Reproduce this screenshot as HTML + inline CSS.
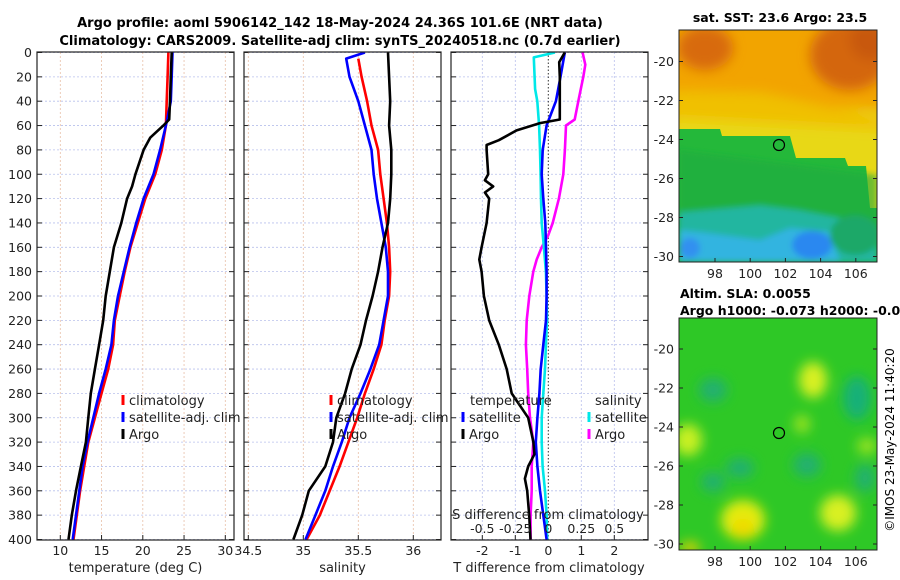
<!DOCTYPE html>
<html><head><meta charset="utf-8">
<style>
html,body{margin:0;padding:0;background:#fff;}
svg{display:block;font-family:"DejaVu Sans","Liberation Sans",sans-serif;}
</style></head>
<body>
<svg id="chart" width="900" height="580" viewBox="0 0 900 580" xmlns="http://www.w3.org/2000/svg">
<defs>
<filter id="blur6" x="-50%" y="-50%" width="200%" height="200%"><feGaussianBlur stdDeviation="6"/></filter>
<filter id="blur3" x="-50%" y="-50%" width="200%" height="200%"><feGaussianBlur stdDeviation="3"/></filter>
<clipPath id="clipSST"><rect x="679" y="30" width="198" height="232"/></clipPath>
<clipPath id="clipSLA"><rect x="679" y="318" width="198" height="232"/></clipPath>
<clipPath id="clipP1"><rect x="37" y="52" width="197" height="488"/></clipPath>
<clipPath id="clipP2"><rect x="244" y="52" width="197" height="488"/></clipPath>
<clipPath id="clipP3"><rect x="451" y="52" width="197" height="488"/></clipPath>
</defs>

<text x="340" y="27" font-size="13" font-weight="bold" text-anchor="middle">Argo profile: aoml 5906142_142 18-May-2024 24.36S 101.6E (NRT data)</text>
<text x="340" y="45" font-size="13" font-weight="bold" text-anchor="middle">Climatology: CARS2009. Satellite-adj clim: synTS_20240518.nc (0.7d earlier)</text>

<!-- SST map -->
<g>
<g clip-path="url(#clipSST)">
<rect x="679" y="30" width="198" height="232" fill="#f2a400"/>
<g filter="url(#blur6)">
<ellipse cx="705" cy="48" rx="28" ry="22" fill="#d86a0c"/>
<ellipse cx="850" cy="55" rx="40" ry="35" fill="#d4660c"/>
<ellipse cx="870" cy="40" rx="20" ry="20" fill="#c85808"/>
<polygon points="670,100 890,110 890,240 670,240" fill="#e8d814"/>
<polygon points="670,90 760,92 800,100 890,120 890,130 670,118" fill="#f0c000"/>
</g>
<polygon points="679,129 720,129 722,136 790,136 796,158 845,158 848,166 866,166 870,208 877,208 877,262 679,262" fill="#24b83a"/>
<g filter="url(#blur3)">
<polygon points="679,150 877,175 877,262 679,262" fill="#1caa40" opacity="0.6"/>
<polygon points="679,212 760,205 800,210 877,225 877,262 679,262" fill="#20b6a0"/>
<polygon points="679,230 700,232 760,240 790,228 830,232 840,262 679,262" fill="#30b4e0"/>
<ellipse cx="812" cy="245" rx="20" ry="14" fill="#2a88f0"/>
<ellipse cx="690" cy="248" rx="10" ry="10" fill="#3090f0"/>
<ellipse cx="855" cy="235" rx="25" ry="20" fill="#1aa868"/>
</g>
</g>
<rect x="679" y="30" width="198" height="232" fill="none" stroke="#222" stroke-width="1"/>
<circle cx="779" cy="145" r="5.5" fill="none" stroke="#000" stroke-width="1.2"/>
</g>
<text x="780" y="22" font-size="12.5" font-weight="bold" text-anchor="middle">sat. SST: 23.6 Argo: 23.5</text>

<!-- SLA map -->
<g>
<g clip-path="url(#clipSLA)">
<rect x="679" y="318" width="198" height="232" fill="#2ec826"/>
<g filter="url(#blur6)">
<ellipse cx="713" cy="390" rx="14" ry="12" fill="#20b070"/>
<ellipse cx="857" cy="398" rx="14" ry="22" fill="#18b078"/>
<ellipse cx="807" cy="465" rx="14" ry="12" fill="#20b070"/>
<ellipse cx="740" cy="468" rx="14" ry="10" fill="#20b070"/>
<ellipse cx="713" cy="482" rx="12" ry="10" fill="#22b070"/>
<ellipse cx="865" cy="478" rx="10" ry="14" fill="#22b070"/>
<ellipse cx="813" cy="380" rx="14" ry="18" fill="#d8f020"/>
<ellipse cx="743" cy="520" rx="22" ry="20" fill="#e4ec10"/>
<ellipse cx="743" cy="528" rx="10" ry="10" fill="#f0d800"/>
<ellipse cx="838" cy="513" rx="18" ry="18" fill="#d8f020"/>
<ellipse cx="688" cy="440" rx="14" ry="16" fill="#c8f020"/>
<ellipse cx="802" cy="424" rx="8" ry="9" fill="#9ce420"/>
<ellipse cx="867" cy="446" rx="10" ry="8" fill="#9ce420"/>
<ellipse cx="690" cy="548" rx="10" ry="6" fill="#e8d000"/>
</g>
</g>
<rect x="679" y="318" width="198" height="232" fill="none" stroke="#222" stroke-width="1"/>
<circle cx="779" cy="433" r="5.5" fill="none" stroke="#000" stroke-width="1.2"/>
</g>
<text x="680" y="298" font-size="12.5" font-weight="bold">Altim. SLA: 0.0055</text>
<text x="680" y="315" font-size="12.5" font-weight="bold">Argo h1000: -0.073 h2000: -0.082</text>
<text transform="translate(894,440) rotate(-90)" font-size="12" text-anchor="middle">©IMOS 23-May-2024 11:40:20</text>

<g id="dyn"></g>
</svg>
<script>
// ---- data ----
const depths = [0,20,40,60,80,100,120,140,160,180,200,220,240,260,280,300,320,340,360,380,400];
const tempClim = [23.1,23.0,22.9,22.8,22.3,21.5,20.3,19.4,18.5,17.8,17.2,16.6,16.4,15.8,15.0,14.2,13.4,12.9,12.4,12.0,11.6];
const tempSat = [23.6,23.5,23.4,22.8,22.1,21.3,20.1,19.2,18.4,17.7,17.0,16.5,16.2,15.5,14.7,14.0,13.3,12.7,12.3,11.9,11.5];
const argoDepths = [0,20,40,55,60,65,70,80,100,110,120,140,160,180,200,220,240,260,280,300,320,340,360,380,400];
const tempArgo = [23.5,23.4,23.3,23.2,22.5,21.7,20.9,20.1,19.1,18.7,18.1,17.4,16.5,16.0,15.5,15.2,14.7,14.2,13.7,13.4,13.1,12.5,11.9,11.4,11.0];
const salClimDepths = [5,20,40,60,80,100,120,140,160,180,200,220,240,260,280,300,320,340,360,380,400];
const salClim = [35.50,35.53,35.58,35.62,35.68,35.70,35.73,35.76,35.78,35.79,35.78,35.74,35.71,35.64,35.56,35.49,35.41,35.33,35.24,35.15,35.03];
const salSatDepths = [0,5,20,40,60,80,100,120,140,160,180,200,220,240,260,280,300,320,340,360,380,400];
const salSat = [35.56,35.39,35.42,35.50,35.56,35.62,35.64,35.67,35.71,35.75,35.77,35.77,35.73,35.69,35.61,35.52,35.42,35.35,35.27,35.20,35.11,35.02];
const salArgo = [35.77,35.78,35.79,35.78,35.80,35.80,35.79,35.77,35.72,35.68,35.63,35.57,35.52,35.44,35.38,35.30,35.27,35.20,35.05,34.99,34.91];
const dtArgoDepths = [0,8,20,40,55,58,64,72,76,80,100,105,110,115,120,140,160,170,180,200,220,240,260,280,300,320,330,340,350,360,380,400];
const dtArgo = [0.5,0.33,0.35,0.35,0.35,-0.25,-0.96,-1.5,-1.87,-1.87,-1.82,-1.92,-1.67,-1.92,-1.79,-1.87,-2.02,-2.09,-2.02,-1.95,-1.79,-1.5,-1.26,-1.11,-0.61,-0.45,-0.42,-0.61,-0.71,-0.64,-0.58,-0.54];
const dtSat = [0.5,0.37,0.23,-0.05,-0.17,-0.2,-0.15,-0.09,-0.07,-0.05,-0.05,-0.07,-0.15,-0.23,-0.27,-0.33,-0.38,-0.33,-0.25,-0.15,-0.05];
const dsSatDepths = [0,4,30,40,60,80,100,120,140,160,180,200,220,240,260,280,300,320,340,360,380,400];
const dsSat = [0.05,-0.11,-0.10,-0.083,-0.07,-0.063,-0.058,-0.055,-0.05,-0.033,-0.018,-0.013,-0.01,-0.018,-0.025,-0.038,-0.05,-0.05,-0.043,-0.025,-0.013,-0.008];
const dsArgoDepths = [0,10,20,40,55,60,80,100,120,140,150,160,170,180,200,220,240,260,280,300,320,340,360,380,400];
const dsArgo = [0.26,0.28,0.265,0.227,0.2,0.134,0.126,0.114,0.08,0.033,0.0,-0.05,-0.088,-0.114,-0.144,-0.164,-0.17,-0.16,-0.152,-0.139,-0.114,-0.126,-0.126,-0.134,-0.134];
const depthTicks = [0,20,40,60,80,100,120,140,160,180,200,220,240,260,280,300,320,340,360,380,400];
const tempTicks = [10,15,20,25,30];
const salTicks = [34.5,35,35.5,36];
const salTickLabels = ["34.5","35","35.5","36"];
const dtTicks = [-2,-1,0,1,2];
const dsTicks = [-0.5,-0.25,0,0.25,0.5];
const dsTickLabels = ["-0.5","-0.25","0","0.25","0.5"];
const lonTicks = [98,100,102,104,106];
const latTicks = [-20,-22,-24,-26,-28,-30];

// ---- scales ----
const yD = d => 52.5 + d*1.2175;
const xT = t => 60.3 + (t-10)*8.25;
const xS = s => 248.3 + (s-34.5)*110;
const xDT = v => 548.3 + v*33;
const xDS = v => 548.3 + v*132;
const xLon = l => 715 + (l-98)*17.6;
const yLatTop = l => 61.5 + (-20-l)*19.5;
const yLatBot = l => 349 + (-20-l)*19.5;

const NS = "http://www.w3.org/2000/svg";
const root = document.getElementById('dyn');
function el(tag, attrs, parent){
  const e = document.createElementNS(NS, tag);
  for (const k in attrs) e.setAttribute(k, attrs[k]);
  (parent||root).appendChild(e);
  return e;
}
function txt(x,y,s,size,anchor,parent){
  const t = el('text',{x:x,y:y,'font-size':size,'text-anchor':anchor||'middle','fill':'#222'},parent);
  t.textContent = s;
  return t;
}

const panels = [
  {L:37, name:'temperature-panel', clip:'clipP1'},
  {L:244, name:'salinity-panel', clip:'clipP2'},
  {L:451, name:'difference-panel', clip:'clipP3'}
];
const W = 197, T0 = 52, B0 = 540;
panels.forEach((p, i) => {
  const g = el('g',{});
  
  
  p.g = g;
  // horizontal grid
  depthTicks.forEach(d => {
    const y = yD(d);
    const ln = el('line',{x1:p.L,x2:p.L+W,y1:y,y2:y,stroke:'#b8c0ec','stroke-width':0.8,'stroke-dasharray':'2,2'},g);
    
    
    el('line',{x1:p.L,x2:p.L+5,y1:y,y2:y,stroke:'#222','stroke-width':1},g);
    el('line',{x1:p.L+W-5,x2:p.L+W,y1:y,y2:y,stroke:'#222','stroke-width':1},g);
  });
});
// vertical grid + x ticks
function vgrid(p, vals, fx, color){
  vals.forEach(v => {
    const x = fx(v);
    el('line',{x1:x,x2:x,y1:T0,y2:B0,stroke:color,'stroke-width':0.8,'stroke-dasharray':'2,2'},p.g);
    el('line',{x1:x,x2:x,y1:B0-5,y2:B0,stroke:'#222','stroke-width':1},p.g);
  });
}
vgrid(panels[0], tempTicks, xT, '#e8c0a8');
vgrid(panels[1], salTicks, xS, '#e8c0a8');
vgrid(panels[2], dtTicks.filter(v=>v!==0), xDT, '#b8c0ec');
el('line',{x1:xDT(0),x2:xDT(0),y1:T0,y2:B0,stroke:'#333','stroke-width':1,'stroke-dasharray':'1.5,2'},panels[2].g);

// y tick labels
depthTicks.forEach(d => {
  const t = txt(32, yD(d)+4.5, String(d), 12.5, 'end');
  
  
});
tempTicks.forEach((v,i) => {
  const t = txt(xT(v), 555, String(v), 12.5, 'middle');
  
  
});
salTicks.forEach((v,i) => {
  const t = txt(xS(v), 555, salTickLabels[i], 12.5, 'middle');
  
  
});
dtTicks.forEach(v => {
  const t = txt(xDT(v), 555, String(v), 12.5, 'middle');
  
  
});
dsTicks.forEach((v,i) => {
  const t = txt(xDS(v), 533, dsTickLabels[i], 12.5, 'middle');
  
  
});
let a;
a = txt(135.5, 572, 'temperature (deg C)', 13, 'middle');


a = txt(342.5, 572, 'salinity', 13, 'middle');


a = txt(549, 572, 'T difference from climatology', 13, 'middle');


a = txt(548, 519, 'S difference from climatology', 13, 'middle');



// series
function series(p, xs, ds, fx, color, name){
  let d = '';
  xs.forEach((v,i) => { d += (i?'L':'M') + fx(v).toFixed(1) + ',' + yD(ds[i]).toFixed(1); });
  const path = el('path',{d:d,fill:'none',stroke:color,'stroke-width':2.6,'stroke-linejoin':'round','clip-path':'url(#'+p.clip+')'},p.g);
  
  
}
series(panels[0], tempClim, depths, xT, '#ff0000', 'temperature-climatology-line');
series(panels[0], tempSat, depths, xT, '#0000ff', 'temperature-satellite-line');
series(panels[0], tempArgo, argoDepths, xT, '#000000', 'temperature-argo-line');
series(panels[1], salClim, salClimDepths, xS, '#ff0000', 'salinity-climatology-line');
series(panels[1], salSat, salSatDepths, xS, '#0000ff', 'salinity-satellite-line');
series(panels[1], salArgo, depths, xS, '#000000', 'salinity-argo-line');
series(panels[2], dsArgo, dsArgoDepths, xDS, '#ff00ff', 'sdiff-argo-line');
series(panels[2], dsSat, dsSatDepths, xDS, '#00e8e8', 'sdiff-satellite-line');
series(panels[2], dtSat, depths, xDT, '#0000ff', 'tdiff-satellite-line');
series(panels[2], dtArgo, dtArgoDepths, xDT, '#000000', 'tdiff-argo-line');

// axes frames
panels.forEach(p => {
  el('rect',{x:p.L,y:T0,width:W,height:B0-T0,fill:'none',stroke:'#222','stroke-width':1.2},p.g);
});

// legends
function legend(x, y, color, label, name){
  const g = el('g',{});
  
  
  el('line',{x1:x,x2:x,y1:y-10,y2:y,stroke:color,'stroke-width':3},g);
  txt(x+6, y, label, 13, 'start', g);
}
legend(123, 405, '#ff0000', 'climatology', 'legend-temp-climatology');
legend(123, 422, '#0000ff', 'satellite-adj. clim', 'legend-temp-satellite');
legend(123, 439, '#000000', 'Argo', 'legend-temp-argo');
legend(331, 405, '#ff0000', 'climatology', 'legend-sal-climatology');
legend(331, 422, '#0000ff', 'satellite-adj. clim', 'legend-sal-satellite');
legend(331, 439, '#000000', 'Argo', 'legend-sal-argo');
a = txt(470, 405, 'temperature', 13, 'start');


a = txt(595, 405, 'salinity', 13, 'start');


legend(463, 422, '#0000ff', 'satellite', 'legend-tdiff-satellite');
legend(463, 439, '#000000', 'Argo', 'legend-tdiff-argo');
legend(589, 422, '#00e8e8', 'satellite', 'legend-sdiff-satellite');
legend(589, 439, '#ff00ff', 'Argo', 'legend-sdiff-argo');

// map ticks
[[30,262,yLatTop],[318,550,yLatBot]].forEach((m, mi) => {
  lonTicks.forEach(l => {
    const x = xLon(l);
    el('line',{x1:x,x2:x,y1:m[1]-4,y2:m[1],stroke:'#222'});
    const t = txt(x, m[1]+16, String(l), 12.5, 'middle');
    
    
  });
  latTicks.forEach(l => {
    const y = m[2](l);
    el('line',{x1:679,x2:683,y1:y,y2:y,stroke:'#222'});
    el('line',{x1:873,x2:877,y1:y,y2:y,stroke:'#222'});
    const t = txt(674, y+4.5, String(l), 12.5, 'end');
    
    
  });
});
</script>
</body></html>
